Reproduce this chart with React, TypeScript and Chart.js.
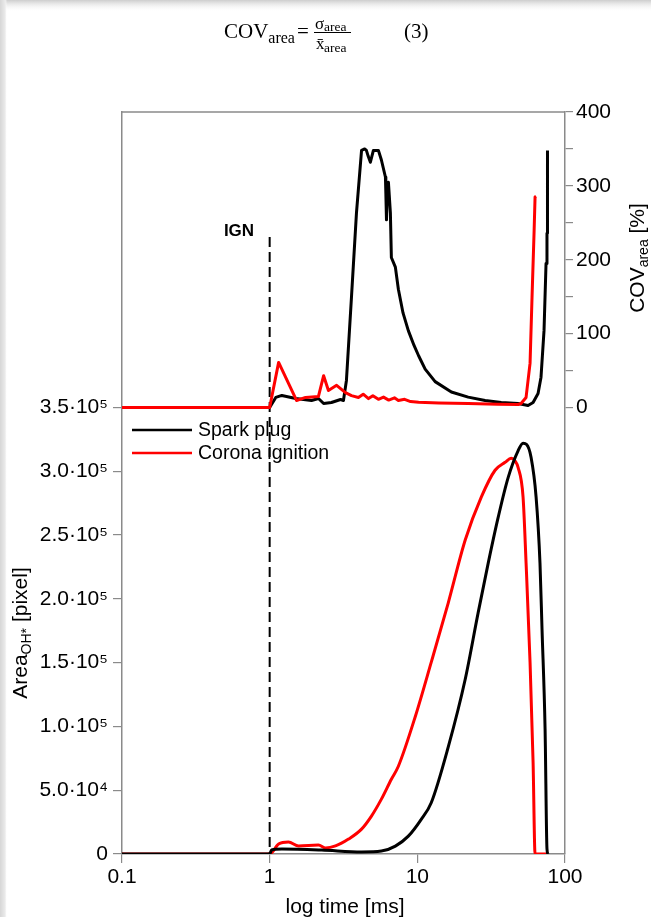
import React, { useEffect, useRef } from 'react';
import { Chart, registerables } from 'chart.js';

Chart.register(...registerables);

// ---------- data ----------
const xTickValues = [0.1, 1, 10, 100];
const areaTickValues = [0, 50000, 100000, 150000, 200000, 250000, 300000, 350000];
const areaTickLabels = ['0', '5.0·10⁴', '1.0·10⁵', '1.5·10⁵', '2.0·10⁵', '2.5·10⁵', '3.0·10⁵', '3.5·10⁵'];
const covTickValues = [0, 50, 100, 150, 200, 250, 300, 350, 400];
const covTickLabels = ['0', '', '100', '', '200', '', '300', '', '400'];

// Spark plug – flame area [pixel]
const sparkAreaTime = [0.1, 1.0, 1.03, 1.21, 2.25, 4.19, 5.71, 7.1, 8.69, 10.6, 12.4, 16.2, 21.1, 25.8, 30.2, 35.3, 41.2, 48.1, 52.0, 55.0, 58.9, 63.7, 67.7, 69.9, 73.3, 75.5, 76.7];
const sparkAreaValues = [0, 0, 3100, 3900, 3100, 1600, 2300, 6200, 14000, 27000, 40000, 84000, 137000, 189000, 228000, 264000, 295000, 316000, 322000, 321000, 311000, 280000, 228000, 176000, 98000, 4000, 0];

// Corona ignition – flame area [pixel]
const coronaAreaTime = [0.1, 1.0, 1.15, 1.34, 1.57, 2.14, 2.39, 2.79, 3.42, 4.19, 4.89, 5.71, 6.67, 7.44, 9.69, 12.4, 16.2, 21.1, 27.1, 33.6, 39.3, 43.2, 46.0, 48.1, 52.0, 54.5, 58.0, 60.8, 62.7, 76.7];
const coronaAreaValues = [0, 0, 7800, 9400, 6300, 7000, 4700, 6300, 11700, 19500, 29700, 43000, 58600, 68800, 107800, 150000, 196900, 246100, 279700, 300800, 307000, 310200, 308000, 303100, 279700, 228100, 150000, 71900, 0, 0];

// Spark plug – COV of area [%]
const sparkCovTime = [0.1, 1.0, 1.1, 1.21, 1.5, 1.92, 2.14, 2.32, 2.62, 3.02, 3.16, 3.31, 3.58, 3.87, 4.19, 4.4, 4.52, 4.65, 4.81, 5.04, 5.45, 5.71, 6.08, 6.12, 6.18, 6.25, 6.37, 6.57, 6.67, 7.1, 7.44, 8.0, 8.69, 9.5, 10.2, 11.3, 13.2, 17.0, 22.1, 28.8, 37.0, 48.1, 56.2, 60.8, 65.7, 68.8, 72.1, 74.4, 75.5, 75.8, 76.1];
const sparkCovValues = [0, 0, 13.6, 16.3, 12.2, 9.5, 12.2, 5.4, 6.8, 10.8, 9.5, 36.6, 149, 263, 348, 350, 348, 340, 332, 348, 348, 335, 312, 290, 254, 290, 305, 263, 203, 190, 160, 128, 104, 84, 70, 52, 35, 21, 14, 9.5, 6.8, 5.4, 2.7, 6.8, 19, 41, 104, 195, 236, 236, 348];

// Corona ignition – COV of area [%]
const coronaCovTime = [0.1, 1.0, 1.15, 1.52, 1.75, 2.14, 2.32, 2.5, 2.84, 3.26, 3.58, 3.99, 4.3, 4.67, 5.0, 5.45, 5.9, 6.4, 7.0, 7.44, 8.2, 9.0, 10.2, 14.0, 22.1, 35.0, 48.1, 50.4, 54.5, 58.0, 59.8, 61.8, 62.7, 63.7];
const coronaCovValues = [0, 0, 61, 9.5, 13.6, 15, 43, 23, 30, 20, 16, 13.6, 18, 12, 16, 11, 14, 10, 13, 9.5, 11, 8, 7, 6, 5.4, 4.5, 4, 5.4, 13.6, 60, 149, 240, 285, 286];

const seriesLabels = ['Spark plug', 'Corona ignition'];
const ignTime = 1;

// ---------- layout constants ----------
const W = 651;
const H = 917;
const AREA_MAX = 581600;
const COV_MAX = 400;
const AREA_COV_ZERO = 350000; // area value aligned with COV = 0
const frac = AREA_COV_ZERO / AREA_MAX;
const COV_MIN = (-COV_MAX * frac) / (1 - frac);

const SANS = '"Liberation Sans", Arial, sans-serif';
const SERIF = '"Liberation Serif", "Times New Roman", serif';
const AXIS_GRAY = '#8a8a8a';

const pts = (t: number[], v: number[]) => t.map((x, i) => ({ x, y: v[i] }));

type Part = { t: string; size: number; dv: number };

function drawParts(ctx: CanvasRenderingContext2D, cx: number, cy: number, rot: number, parts: Part[]) {
  ctx.save();
  ctx.translate(cx, cy);
  ctx.rotate(rot);
  ctx.textBaseline = 'alphabetic';
  ctx.textAlign = 'left';
  let total = 0;
  const widths = parts.map((p) => {
    ctx.font = `${p.size}px ${SANS}`;
    const w = ctx.measureText(p.t).width;
    total += w;
    return w;
  });
  let u = -total / 2;
  parts.forEach((p, i) => {
    ctx.font = `${p.size}px ${SANS}`;
    ctx.fillText(p.t, u, p.dv);
    u += widths[i];
  });
  ctx.restore();
}

const decorPlugin = {
  id: 'decor',
  beforeDraw(chart: any) {
    const ctx: CanvasRenderingContext2D = chart.ctx;
    ctx.save();
    ctx.fillStyle = '#ffffff';
    ctx.fillRect(0, 0, W, H);
    let g = ctx.createLinearGradient(0, 0, 0, 12);
    g.addColorStop(0, '#cdcdcd');
    g.addColorStop(1, 'rgba(255,255,255,0)');
    ctx.fillStyle = g;
    ctx.fillRect(0, 0, W, 12);
    g = ctx.createLinearGradient(0, 0, 7, 0);
    g.addColorStop(0, '#d6d6d6');
    g.addColorStop(0.75, '#ebebeb');
    g.addColorStop(1, 'rgba(255,255,255,0)');
    ctx.fillStyle = g;
    ctx.fillRect(0, 0, 7, H);
    ctx.restore();
  },
  beforeDatasetsDraw(chart: any) {
    const ctx: CanvasRenderingContext2D = chart.ctx;
    const x = chart.scales.x.getPixelForValue(ignTime);
    const area = chart.chartArea;
    ctx.save();
    ctx.strokeStyle = '#000';
    ctx.lineWidth = 2;
    ctx.setLineDash([10, 5]);
    ctx.beginPath();
    ctx.moveTo(x, 237);
    ctx.lineTo(x, area.bottom);
    ctx.stroke();
    ctx.restore();
  },
  afterDraw(chart: any) {
    const ctx: CanvasRenderingContext2D = chart.ctx;
    const area = chart.chartArea;
    ctx.save();
    // top frame line
    ctx.strokeStyle = AXIS_GRAY;
    ctx.lineWidth = 1.5;
    ctx.beginPath();
    ctx.moveTo(area.left, area.top);
    ctx.lineTo(area.right, area.top);
    ctx.stroke();

    ctx.fillStyle = '#000';
    // IGN label
    ctx.font = `bold 17px ${SANS}`;
    ctx.textAlign = 'center';
    ctx.textBaseline = 'middle';
    ctx.fillText('IGN', 239, 231);

    // legend
    const ds = chart.data.datasets;
    [0, 1].forEach((i) => {
      const y = 430 + i * 23;
      ctx.strokeStyle = ds[i].borderColor;
      ctx.lineWidth = 2.5;
      ctx.beginPath();
      ctx.moveTo(132, y);
      ctx.lineTo(192, y);
      ctx.stroke();
      ctx.font = `19.5px ${SANS}`;
      ctx.textAlign = 'left';
      ctx.textBaseline = 'middle';
      ctx.fillStyle = '#000';
      ctx.fillText(ds[i].label, 198, y + 1);
    });

    // axis titles
    ctx.fillStyle = '#000';
    drawParts(ctx, 19, 633, -Math.PI / 2, [
      { t: 'Area', size: 21, dv: 7.5 },
      { t: 'OH*', size: 14, dv: 11.5 },
      { t: ' [pixel]', size: 21, dv: 7.5 },
    ]);
    drawParts(ctx, 636, 258, -Math.PI / 2, [
      { t: 'COV', size: 21, dv: 7.5 },
      { t: 'area', size: 14, dv: 11.5 },
      { t: ' [%]', size: 21, dv: 7.5 },
    ]);
    drawParts(ctx, 345, 905, 0, [{ t: 'log time [ms]', size: 21, dv: 7.5 }]);

    // equation
    ctx.textAlign = 'left';
    ctx.textBaseline = 'alphabetic';
    ctx.font = `21px ${SERIF}`;
    ctx.fillText('COV', 224, 38);
    const wc = ctx.measureText('COV').width;
    ctx.font = `16px ${SERIF}`;
    ctx.fillText('area', 224 + wc, 43);
    ctx.font = `21px ${SERIF}`;
    ctx.fillText('=', 297, 38);
    ctx.font = `17px ${SERIF}`;
    ctx.fillText('σ', 315, 29);
    ctx.font = `13.5px ${SERIF}`;
    ctx.fillText('area', 324, 31);
    ctx.fillRect(314, 32, 37, 1);
    ctx.font = `17px ${SERIF}`;
    ctx.fillText('x\u0304', 316, 49);
    ctx.font = `13.5px ${SERIF}`;
    ctx.fillText('area', 324, 52);
    ctx.font = `21px ${SERIF}`;
    ctx.fillText('(3)', 404, 38);
    ctx.restore();
  },
};

export default function App() {
  const ref = useRef<HTMLCanvasElement | null>(null);

  useEffect(() => {
    if (!ref.current) return;
    const tickFont = { family: SANS, size: 21 };
    const lineDs = (label: string, data: any[], color: string, axis: string, smooth: boolean) => ({
      label,
      data,
      yAxisID: axis,
      borderColor: color,
      backgroundColor: color,
      borderWidth: 3,
      pointRadius: 0,
      fill: false,
      tension: 0,
      cubicInterpolationMode: smooth ? ('monotone' as const) : ('default' as const),
      borderJoinStyle: 'round' as const,
    });
    const chart = new Chart(ref.current, {
      type: 'line',
      data: {
        datasets: [
          lineDs(seriesLabels[0], pts(sparkAreaTime, sparkAreaValues), '#000000', 'y', true),
          lineDs(seriesLabels[1], pts(coronaAreaTime, coronaAreaValues), '#ff0000', 'y', true),
          lineDs(seriesLabels[1] + ' COV', pts(coronaCovTime, coronaCovValues), '#ff0000', 'y1', false),
          lineDs(seriesLabels[0] + ' COV', pts(sparkCovTime, sparkCovValues), '#000000', 'y1', false),
        ],
      },
      options: {
        animation: false,
        responsive: false,
        devicePixelRatio: 1,
        events: [],
        layout: { padding: { top: 112, left: 0, right: 0, bottom: 0 } },
        plugins: { legend: { display: false }, tooltip: { enabled: false }, title: { display: false } },
        scales: {
          x: {
            type: 'logarithmic',
            position: 'bottom',
            min: 0.1,
            max: 100,
            afterBuildTicks: (s: any) => {
              s.ticks = xTickValues.map((v) => ({ value: v }));
            },
            afterFit: (s: any) => {
              s.height = H - 854;
            },
            ticks: {
              callback: (v: any) => String(v),
              font: tickFont,
              color: '#000',
              padding: 2,
              autoSkip: false,
              maxRotation: 0,
            },
            grid: { drawOnChartArea: false, drawTicks: true, tickLength: 9, color: AXIS_GRAY, lineWidth: 1.2 },
            border: { display: true, color: AXIS_GRAY, width: 1.5 },
          },
          y: {
            type: 'linear',
            position: 'left',
            min: 0,
            max: AREA_MAX,
            afterBuildTicks: (s: any) => {
              s.ticks = areaTickValues.map((v) => ({ value: v }));
            },
            afterFit: (s: any) => {
              s.width = 122;
            },
            ticks: {
              callback: (v: any) => areaTickLabels[areaTickValues.indexOf(v)],
              font: tickFont,
              color: '#000',
              padding: 5,
              autoSkip: false,
            },
            grid: { drawOnChartArea: false, drawTicks: true, tickLength: 9, color: AXIS_GRAY, lineWidth: 1.2 },
            border: { display: true, color: AXIS_GRAY, width: 1.5 },
          },
          y1: {
            type: 'linear',
            position: 'right',
            min: COV_MIN,
            max: COV_MAX,
            afterBuildTicks: (s: any) => {
              s.ticks = covTickValues.map((v) => ({ value: v }));
            },
            afterFit: (s: any) => {
              s.width = W - 565;
            },
            ticks: {
              callback: (v: any) => covTickLabels[covTickValues.indexOf(v)],
              font: tickFont,
              color: '#000',
              padding: 3,
              autoSkip: false,
            },
            grid: { drawOnChartArea: false, drawTicks: true, tickLength: 8, color: AXIS_GRAY, lineWidth: 1.2 },
            border: { display: true, color: AXIS_GRAY, width: 1.5 },
          },
        },
      } as any,
      plugins: [decorPlugin],
    });
    return () => chart.destroy();
  }, []);

  return (
    <div style={{ position: 'absolute', left: 0, top: 0, width: W, height: H, background: '#fff' }}>
      <canvas ref={ref} width={W} height={H} style={{ display: 'block', width: W, height: H }} />
    </div>
  );
}
